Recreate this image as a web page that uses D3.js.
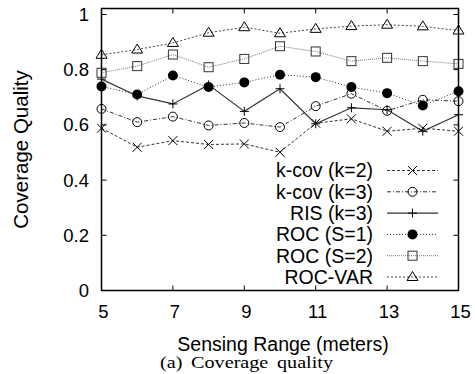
<!DOCTYPE html>
<html lang="en">
<head>
<meta charset="UTF-8">
<title>Coverage quality</title>
<script src="https://cdn.jsdelivr.net/npm/d3@7"></script>
<style>
  body { margin: 0; background: #fff; }
  text { font-family: "Liberation Sans", Arial, sans-serif; fill: #000; }
</style>
</head>
<body>
<svg class="root"></svg>
<script>
    // sensing range (meters)
    const ranges = [5, 6, 7, 8, 9, 10, 11, 12, 13, 14, 15];

    const kcov2  = [0.588, 0.519, 0.543, 0.529, 0.531, 0.501, 0.606, 0.622, 0.577, 0.588, 0.577];
    const kcov3  = [0.658, 0.610, 0.630, 0.598, 0.607, 0.592, 0.668, 0.713, 0.651, 0.691, 0.686];
    const ris    = [0.766, 0.705, 0.676, 0.745, 0.649, 0.731, 0.604, 0.662, 0.655, 0.577, 0.637];
    const roc1   = [0.739, 0.710, 0.779, 0.737, 0.754, 0.782, 0.773, 0.737, 0.715, 0.670, 0.722];
    const roc2   = [0.789, 0.813, 0.855, 0.809, 0.839, 0.885, 0.866, 0.831, 0.843, 0.831, 0.821];
    const rocVar = [0.854, 0.873, 0.897, 0.934, 0.954, 0.932, 0.948, 0.958, 0.963, 0.957, 0.942];

    const xTicks = [5, 7, 9, 11, 13, 15];
    const yTicks = [0, 0.2, 0.4, 0.6, 0.8, 1];

    const series = [
        {name: "k-cov (k=2)", values: kcov2,  marker: "times",    dash: "3,2",     color: "#333", width: 1},
        {name: "k-cov (k=3)", values: kcov3,  marker: "circle",   dash: "4,2,1,2", color: "#333", width: 1},
        {name: "RIS (k=3)",   values: ris,    marker: "plus",     dash: null,      color: "#333", width: 1.2},
        {name: "ROC (S=1)",   values: roc1,   marker: "dot",      dash: "1,2",     color: "#333", width: 1},
        {name: "ROC (S=2)",   values: roc2,   marker: "square",   dash: "1,1",     color: "#777", width: 1},
        {name: "ROC-VAR",     values: rocVar, marker: "triangle", dash: "2,2",     color: "#444", width: 1}
    ];

    const width = 475, height = 374;
    const plot = {left: 101.5, right: 458.5, top: 8.5, bottom: 290.5};

    const x = d3.scaleLinear().domain([5, 15]).range([plot.left, plot.right]);
    const y = d3.scaleLinear().domain([0, 1]).range([plot.bottom, 14.5]);

    const svg = d3.select(".root")
        .attr("width", width)
        .attr("height", height);

    svg.append("rect").attr("width", width).attr("height", height).attr("fill", "#fff");

    // inward ticks on all four sides (gnuplot style)
    const tickLen = 5;
    const ticks = svg.append("g").attr("stroke", "#000").attr("stroke-width", 1);
    xTicks.forEach(t => {
        ticks.append("line").attr("x1", x(t)).attr("x2", x(t)).attr("y1", plot.bottom).attr("y2", plot.bottom - tickLen);
        ticks.append("line").attr("x1", x(t)).attr("x2", x(t)).attr("y1", plot.top).attr("y2", plot.top + tickLen);
    });
    yTicks.forEach(t => {
        ticks.append("line").attr("x1", plot.left).attr("x2", plot.left + tickLen).attr("y1", y(t)).attr("y2", y(t));
        ticks.append("line").attr("x1", plot.right).attr("x2", plot.right - tickLen).attr("y1", y(t)).attr("y2", y(t));
    });

    svg.append("g")
        .selectAll("text")
        .data(xTicks)
        .join("text")
        .attr("x", d => x(d) + 2)
        .attr("y", 318)
        .attr("text-anchor", "middle")
        .style("font-size", "18.5px")
        .text(d => d);

    svg.append("g")
        .selectAll("text")
        .data(yTicks)
        .join("text")
        .attr("x", 89)
        .attr("y", d => y(d))
        .attr("dy", "0.35em")
        .attr("text-anchor", "end")
        .style("font-size", "18.5px")
        .text(d => d);

    // axis titles
    svg.append("text")
        .attr("x", (plot.left + plot.right) / 2 + 3)
        .attr("y", 350.5)
        .attr("text-anchor", "middle")
        .style("font-size", "19.5px")
        .text("Sensing Range (meters)");

    svg.append("text")
        .attr("transform", `translate(28,${(plot.top + plot.bottom) / 2}) rotate(-90)`)
        .attr("text-anchor", "middle")
        .style("font-size", "20.5px")
        .text("Coverage Quality");

    svg.append("text")
        .attr("x", 160)
        .attr("y", 368)
        .attr("textLength", 173)
        .attr("lengthAdjust", "spacingAndGlyphs")
        .style("font-family", "'Liberation Serif', 'Times New Roman', serif")
        .style("font-size", "16.5px")
        .style("word-spacing", "3px")
        .text("(a) Coverage quality");

    function marker(g, type, cx, cy) {
        const s = 4.5;
        if (type === "times") {
            g.append("path").attr("d", `M${cx - s},${cy - s}L${cx + s},${cy + s}M${cx - s},${cy + s}L${cx + s},${cy - s}`)
                .attr("stroke", "#000").attr("stroke-width", 1).attr("fill", "none");
        } else if (type === "plus") {
            g.append("path").attr("d", `M${cx - s},${cy}L${cx + s},${cy}M${cx},${cy - s}L${cx},${cy + s}`)
                .attr("stroke", "#000").attr("stroke-width", 1).attr("fill", "none");
        } else if (type === "circle") {
            g.append("circle").attr("cx", cx).attr("cy", cy).attr("r", 4.5)
                .attr("stroke", "#000").attr("stroke-width", 1).attr("fill", "none");
        } else if (type === "dot") {
            g.append("circle").attr("cx", cx).attr("cy", cy).attr("r", 5)
                .attr("fill", "#000");
        } else if (type === "square") {
            g.append("rect").attr("x", cx - 4.5).attr("y", cy - 4.5).attr("width", 9).attr("height", 9)
                .attr("stroke", "#333").attr("stroke-width", 1).attr("fill", "none");
        } else if (type === "triangle") {
            g.append("path").attr("d", `M${cx},${cy - 5.5}L${cx + 5.5},${cy + 3.5}L${cx - 5.5},${cy + 3.5}Z`)
                .attr("stroke", "#000").attr("stroke-width", 1).attr("fill", "none");
        }
    }

    const line = d3.line()
        .x((d, i) => x(ranges[i]))
        .y(d => y(d));

    const lines = svg.append("g");
    series.forEach(s => {
        const g = lines.append("g");
        g.append("path")
            .attr("d", line(s.values))
            .attr("fill", "none")
            .attr("stroke", s.color)
            .attr("stroke-width", s.width)
            .attr("stroke-dasharray", s.dash);
        s.values.forEach((v, i) => marker(g, s.marker, x(ranges[i]), y(v)));
    });

    // legend
    const legend = svg.append("g");
    series.forEach((s, i) => {
        const ly = 170.5 + i * 21.3;
        legend.append("text")
            .attr("x", 373)
            .attr("y", ly)
            .attr("dy", "0.35em")
            .attr("text-anchor", "end")
            .style("font-size", "19.5px")
            .text(s.name);
        legend.append("line")
            .attr("x1", 387).attr("x2", 438).attr("y1", ly).attr("y2", ly)
            .attr("stroke", s.color)
            .attr("stroke-width", s.width)
            .attr("stroke-dasharray", s.dash);
        marker(legend, s.marker, 412.5, ly);
    });

    // frame
    svg.append("rect")
        .attr("x", plot.left)
        .attr("y", plot.top)
        .attr("width", plot.right - plot.left)
        .attr("height", plot.bottom - plot.top)
        .attr("fill", "none")
        .attr("stroke", "#000")
        .attr("stroke-width", 1.5);
</script>
</body>
</html>
